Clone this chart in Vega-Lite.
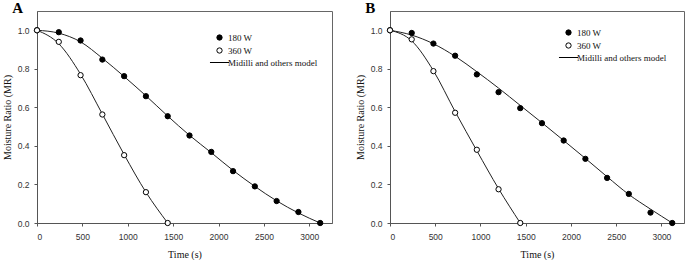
{
  "$schema": "https://vega.github.io/schema/vega-lite/v6.json",
  "padding": {"left": 1, "top": 0, "right": 0, "bottom": 0},
  "spacing": 21,
  "config": {
    "view": {"stroke": "#666", "strokeWidth": 1},
    "axis": {"grid": false, "domainColor": "#555", "tickColor": "#555", "labelFont": "Liberation Sans, Arial, sans-serif", "labelFontSize": 8.5, "labelColor": "#333", "titleFont": "Liberation Serif, Times New Roman, serif", "titleFontSize": 10, "titleFontWeight": "normal", "titleColor": "#111", "tickSize": 3},
    "legend": {"labelFont": "Liberation Serif, Times New Roman, serif", "labelFontSize": 9, "labelColor": "#111", "padding": 0},
    "title": {"font": "Liberation Serif, Times New Roman, serif", "fontSize": 15, "fontWeight": "bold", "anchor": "start", "frame": "bounds", "color": "#000"}
  },
  "resolve": {"scale": {"shape": "independent", "fill": "independent", "size": "independent"}, "legend": {"shape": "independent", "fill": "independent", "size": "independent"}},
  "hconcat": [
    {
      "title": {"text": "A", "offset": -5, "dx": 10},
      "width": 295,
      "height": 212,
      "layer": [
        {
          "data": {"values": [
            {"t": 0, "mr": 1.0, "curve": "180"}, {"t": 240, "mr": 0.985, "curve": "180"}, {"t": 480, "mr": 0.94, "curve": "180"}, {"t": 720, "mr": 0.855, "curve": "180"}, {"t": 960, "mr": 0.76, "curve": "180"}, {"t": 1200, "mr": 0.66, "curve": "180"}, {"t": 1440, "mr": 0.555, "curve": "180"}, {"t": 1680, "mr": 0.455, "curve": "180"}, {"t": 1920, "mr": 0.365, "curve": "180"}, {"t": 2160, "mr": 0.273, "curve": "180"}, {"t": 2400, "mr": 0.19, "curve": "180"}, {"t": 2640, "mr": 0.115, "curve": "180"}, {"t": 2880, "mr": 0.052, "curve": "180"}, {"t": 3120, "mr": 0.0, "curve": "180"},
            {"t": 0, "mr": 1.0, "curve": "360"}, {"t": 240, "mr": 0.93, "curve": "360"}, {"t": 480, "mr": 0.772, "curve": "360"}, {"t": 720, "mr": 0.565, "curve": "360"}, {"t": 960, "mr": 0.355, "curve": "360"}, {"t": 1200, "mr": 0.16, "curve": "360"}, {"t": 1440, "mr": 0.0, "curve": "360"}
          ]},
          "mark": {"type": "line", "color": "#222", "strokeWidth": 1, "interpolate": "monotone"},
          "encoding": {
            "x": {"field": "t", "type": "quantitative", "scale": {"domain": [0, 3250], "nice": false}, "axis": {"title": "Time (s)", "values": [0, 500, 1000, 1500, 2000, 2500, 3000], "format": "d", "labelPadding": 6, "titlePadding": 9}},
            "y": {"field": "mr", "type": "quantitative", "scale": {"domain": [0, 1.1], "nice": false}, "axis": {"title": "Moisture Ratio (MR)", "values": [0, 0.2, 0.4, 0.6, 0.8, 1.0], "format": ".1f", "labelPadding": 5, "titlePadding": 5}},
            "detail": {"field": "curve"}
          }
        },
        {
          "data": {"values": [
            {"t": 0, "mr": 1.0, "series": "180 W"}, {"t": 240, "mr": 0.99, "series": "180 W"}, {"t": 480, "mr": 0.947, "series": "180 W"}, {"t": 720, "mr": 0.848, "series": "180 W"}, {"t": 960, "mr": 0.762, "series": "180 W"}, {"t": 1200, "mr": 0.658, "series": "180 W"}, {"t": 1440, "mr": 0.554, "series": "180 W"}, {"t": 1680, "mr": 0.454, "series": "180 W"}, {"t": 1920, "mr": 0.369, "series": "180 W"}, {"t": 2160, "mr": 0.269, "series": "180 W"}, {"t": 2400, "mr": 0.19, "series": "180 W"}, {"t": 2640, "mr": 0.114, "series": "180 W"}, {"t": 2880, "mr": 0.057, "series": "180 W"}, {"t": 3120, "mr": 0.0, "series": "180 W"},
            {"t": 0, "mr": 1.0, "series": "360 W"}, {"t": 240, "mr": 0.94, "series": "360 W"}, {"t": 480, "mr": 0.767, "series": "360 W"}, {"t": 720, "mr": 0.563, "series": "360 W"}, {"t": 960, "mr": 0.352, "series": "360 W"}, {"t": 1200, "mr": 0.16, "series": "360 W"}, {"t": 1440, "mr": 0.0, "series": "360 W"}
          ]},
          "mark": {"type": "point", "stroke": "#000", "strokeWidth": 1, "opacity": 1},
          "encoding": {
            "x": {"field": "t", "type": "quantitative"},
            "y": {"field": "mr", "type": "quantitative"},
            "shape": {"field": "series", "type": "nominal", "scale": {"domain": ["180 W", "360 W", "Midilli and others model"], "range": ["circle", "circle", "M-3.6,0H3.6"]}, "legend": {"title": null, "orient": "none", "legendX": 178, "legendY": 22, "symbolStrokeColor": "#000", "symbolStrokeWidth": 1, "labelOffset": 4, "rowPadding": 2}},
            "fill": {"field": "series", "type": "nominal", "scale": {"domain": ["180 W", "360 W", "Midilli and others model"], "range": ["#000", "#fff", "transparent"]}, "legend": {"title": null, "orient": "none", "legendX": 178, "legendY": 22}},
            "size": {"field": "series", "type": "nominal", "scale": {"domain": ["180 W", "360 W", "Midilli and others model"], "range": [28, 28, 28]}, "legend": {"title": null, "orient": "none", "legendX": 178, "legendY": 22}}
          }
        }
      ]
    },
    {
      "title": {"text": "B", "offset": -5, "dx": 10},
      "width": 294,
      "height": 212,
      "layer": [
        {
          "data": {"values": [
            {"t": 0, "mr": 1.0, "curve": "180"}, {"t": 240, "mr": 0.975, "curve": "180"}, {"t": 480, "mr": 0.93, "curve": "180"}, {"t": 720, "mr": 0.865, "curve": "180"}, {"t": 960, "mr": 0.785, "curve": "180"}, {"t": 1200, "mr": 0.70, "curve": "180"}, {"t": 1440, "mr": 0.61, "curve": "180"}, {"t": 1680, "mr": 0.52, "curve": "180"}, {"t": 1920, "mr": 0.428, "curve": "180"}, {"t": 2160, "mr": 0.335, "curve": "180"}, {"t": 2400, "mr": 0.24, "curve": "180"}, {"t": 2640, "mr": 0.148, "curve": "180"}, {"t": 2880, "mr": 0.072, "curve": "180"}, {"t": 3120, "mr": 0.0, "curve": "180"},
            {"t": 0, "mr": 1.0, "curve": "360"}, {"t": 240, "mr": 0.945, "curve": "360"}, {"t": 480, "mr": 0.79, "curve": "360"}, {"t": 720, "mr": 0.578, "curve": "360"}, {"t": 960, "mr": 0.375, "curve": "360"}, {"t": 1200, "mr": 0.178, "curve": "360"}, {"t": 1440, "mr": 0.0, "curve": "360"}
          ]},
          "mark": {"type": "line", "color": "#222", "strokeWidth": 1, "interpolate": "monotone"},
          "encoding": {
            "x": {"field": "t", "type": "quantitative", "scale": {"domain": [0, 3250], "nice": false}, "axis": {"title": "Time (s)", "values": [0, 500, 1000, 1500, 2000, 2500, 3000], "format": "d", "labelPadding": 6, "titlePadding": 9}},
            "y": {"field": "mr", "type": "quantitative", "scale": {"domain": [0, 1.1], "nice": false}, "axis": {"title": "Moisture Ratio (MR)", "values": [0, 0.2, 0.4, 0.6, 0.8, 1.0], "format": ".1f", "labelPadding": 5, "titlePadding": 5}},
            "detail": {"field": "curve"}
          }
        },
        {
          "data": {"values": [
            {"t": 0, "mr": 1.0, "series": "180 W"}, {"t": 240, "mr": 0.986, "series": "180 W"}, {"t": 480, "mr": 0.931, "series": "180 W"}, {"t": 720, "mr": 0.868, "series": "180 W"}, {"t": 960, "mr": 0.771, "series": "180 W"}, {"t": 1200, "mr": 0.679, "series": "180 W"}, {"t": 1440, "mr": 0.596, "series": "180 W"}, {"t": 1680, "mr": 0.518, "series": "180 W"}, {"t": 1920, "mr": 0.428, "series": "180 W"}, {"t": 2160, "mr": 0.333, "series": "180 W"}, {"t": 2400, "mr": 0.234, "series": "180 W"}, {"t": 2640, "mr": 0.151, "series": "180 W"}, {"t": 2880, "mr": 0.054, "series": "180 W"}, {"t": 3120, "mr": 0.0, "series": "180 W"},
            {"t": 0, "mr": 1.0, "series": "360 W"}, {"t": 240, "mr": 0.953, "series": "360 W"}, {"t": 480, "mr": 0.788, "series": "360 W"}, {"t": 720, "mr": 0.572, "series": "360 W"}, {"t": 960, "mr": 0.38, "series": "360 W"}, {"t": 1200, "mr": 0.175, "series": "360 W"}, {"t": 1440, "mr": 0.0, "series": "360 W"}
          ]},
          "mark": {"type": "point", "stroke": "#000", "strokeWidth": 1, "opacity": 1},
          "encoding": {
            "x": {"field": "t", "type": "quantitative"},
            "y": {"field": "mr", "type": "quantitative"},
            "shape": {"field": "series", "type": "nominal", "scale": {"domain": ["180 W", "360 W", "Midilli and others model"], "range": ["circle", "circle", "M-3.6,0H3.6"]}, "legend": {"title": null, "orient": "none", "legendX": 174, "legendY": 17, "symbolStrokeColor": "#000", "symbolStrokeWidth": 1, "labelOffset": 4, "rowPadding": 2}},
            "fill": {"field": "series", "type": "nominal", "scale": {"domain": ["180 W", "360 W", "Midilli and others model"], "range": ["#000", "#fff", "transparent"]}, "legend": {"title": null, "orient": "none", "legendX": 174, "legendY": 17}},
            "size": {"field": "series", "type": "nominal", "scale": {"domain": ["180 W", "360 W", "Midilli and others model"], "range": [28, 28, 28]}, "legend": {"title": null, "orient": "none", "legendX": 174, "legendY": 17}}
          }
        }
      ]
    }
  ]
}
